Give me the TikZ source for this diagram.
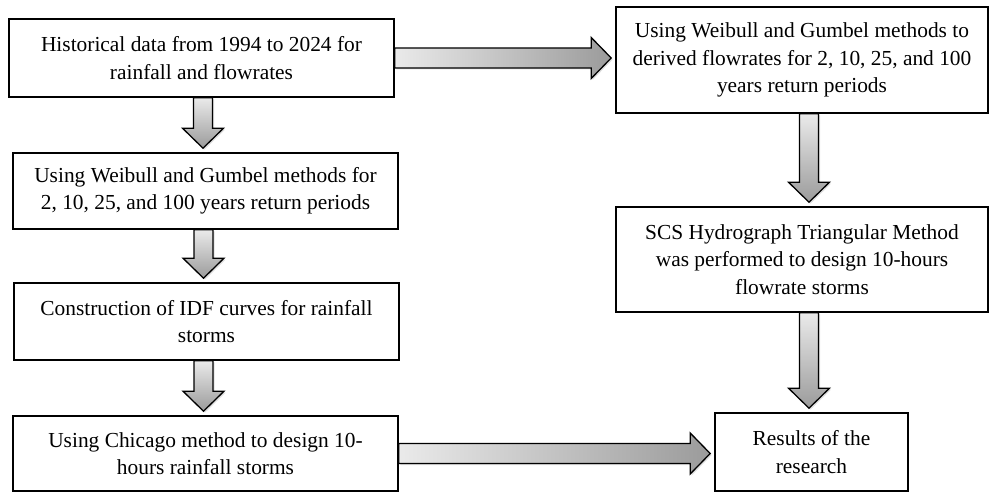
\documentclass[tikz,border=0pt]{standalone}
\usepackage{fontspec}
\setmainfont{Liberation Serif}
\usetikzlibrary{calc,shadows}
\definecolor{arrlight}{RGB}{234,234,234}
\definecolor{arrdark}{RGB}{155,155,155}
% block arrows between boxes: source, target (, x shift)
\newcommand{\vblock}[3]{%
  \path[blockarrow, top color=arrlight, bottom color=arrdark]
    let \p1=($(#1.south)+(#3pt,0)$), \p2=(#2.north) in
    (\x1-9.5pt,\y1) -- (\x1-9.5pt,\y2+24pt) -- (\x1-20.5pt,\y2+24pt) -- (\x1,\y2+4pt)
    -- (\x1+20.5pt,\y2+24pt) -- (\x1+9.5pt,\y2+24pt) -- (\x1+9.5pt,\y1) -- cycle;}
\newcommand{\hblock}[2]{%
  \path[blockarrow, left color=arrlight, right color=arrdark]
    let \p1=(#1.east), \p2=(#2.west) in
    (\x1,\y1+10pt) -- (\x2-24pt,\y1+10pt) -- (\x2-24pt,\y1+20.5pt) -- (\x2-4pt,\y1)
    -- (\x2-24pt,\y1-20.5pt) -- (\x2-24pt,\y1-10pt) -- (\x1,\y1-10pt) -- cycle;}
\begin{document}
\begin{tikzpicture}[x=1pt, y=-1pt, font=\fontsize{21.4}{27.5}\selectfont,
  stepbox/.style={draw, line width=1.6pt, align=center, inner sep=4pt},
  blockarrow/.style={draw, line width=1.3pt, line join=miter,
    drop shadow={opacity=0.25, shadow xshift=1.5pt, shadow yshift=-1.5pt}}]
  \useasboundingbox (0,0) rectangle (989,492);
  % left column: rainfall
  \node[stepbox, minimum width=385, minimum height=78] (hist) at (201.5,58)
    {Historical data from 1994 to 2024 for\\ rainfall and flowrates};
  \node[stepbox, minimum width=385, minimum height=76] (wprec) at (205.5,191)
    {Using Weibull and Gumbel methods for\\ 2, 10, 25, and 100 years return periods};
  \node[stepbox, minimum width=385, minimum height=77] (idf) at (206.5,321.5)
    {Construction of IDF curves for rainfall\\ storms};
  \node[stepbox, minimum width=385, minimum height=75] (chic) at (205.5,453.5)
    {Using Chicago method to design 10-\\ hours rainfall storms};
  % right column: flowrates
  \node[stepbox, minimum width=372, minimum height=106] (wflow) at (802,60)
    {Using Weibull and Gumbel methods to\\ derived flowrates for 2, 10, 25, and 100\\ years return periods};
  \node[stepbox, minimum width=372, minimum height=105] (scs) at (802,259.5)
    {SCS Hydrograph Triangular Method\\ was performed to design 10-hours\\ flowrate storms};
  \node[stepbox, minimum width=193, minimum height=78] (res) at (811.5,452)
    {Results of the\\ research};
  \foreach \a/\b/\dx in {hist/wprec/1.5, wprec/idf/-2, idf/chic/-3, wflow/scs/7, scs/res/7}
    \vblock{\a}{\b}{\dx};
  \hblock{hist}{wflow}
  \hblock{chic}{res}
\end{tikzpicture}
\end{document}
